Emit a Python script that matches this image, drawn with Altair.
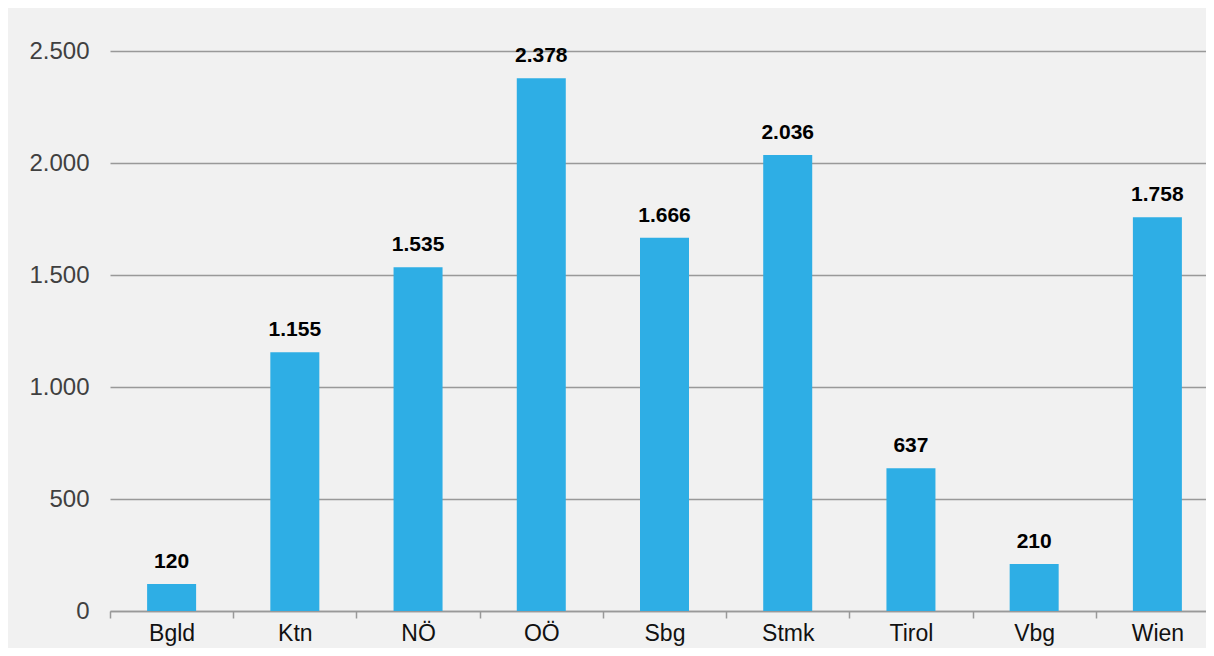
import altair as alt
import pandas as pd

regions = ["Bgld", "Ktn", "NÖ", "OÖ", "Sbg", "Stmk", "Tirol", "Vbg", "Wien"]
values = [120, 1155, 1535, 2378, 1666, 2036, 637, 210, 1758]
y_ticks = [0, 500, 1000, 1500, 2000, 2500]

df = pd.DataFrame({"region": regions, "value": values})

fmt = "replace(format(datum.value, ','), ',', '.')"
FONT = "Liberation Sans"

base = alt.Chart(df).encode(
    x=alt.X(
        "region:N",
        sort=regions,
        scale=alt.Scale(paddingInner=0, paddingOuter=0, range=[0, 1109]),
        axis=alt.Axis(
            title=None, labelAngle=0, tickBand="extent", grid=False,
            domainColor="#999999", tickColor="#999999", tickSize=7,
            tickWidth=1.5, domainWidth=1.5, labelFontSize=23,
            labelColor="#111111", labelPadding=4, labelFont=FONT,
        ),
    ),
)

bars = base.mark_bar(size=49, color="#2eaee5").encode(
    y=alt.Y(
        "value:Q",
        scale=alt.Scale(domain=[0, 2500], nice=False),
        axis=alt.Axis(
            title=None, values=y_ticks, labelExpr=fmt, domain=False,
            ticks=False, gridColor="#999999", gridWidth=1.5,
            labelFontSize=24, labelColor="#404040", labelPadding=21,
            labelFont=FONT,
        ),
    )
)

text = base.transform_calculate(
    label=fmt
).mark_text(
    dy=-16, baseline="alphabetic", fontWeight="bold", fontSize=21,
    font=FONT, color="black",
).encode(
    y="value:Q",
    text="label:N",
)

chart = alt.layer(bars, text).properties(
    width=1096,
    height=560,
    autosize=alt.AutoSizeParams(type="none"),
    padding={"left": 102, "top": 43, "right": 0, "bottom": 37},
    background="#f1f1f1",
).configure_view(stroke=None)

chart.save("out.html", embed_options={"renderer": "svg", "actions": False})
